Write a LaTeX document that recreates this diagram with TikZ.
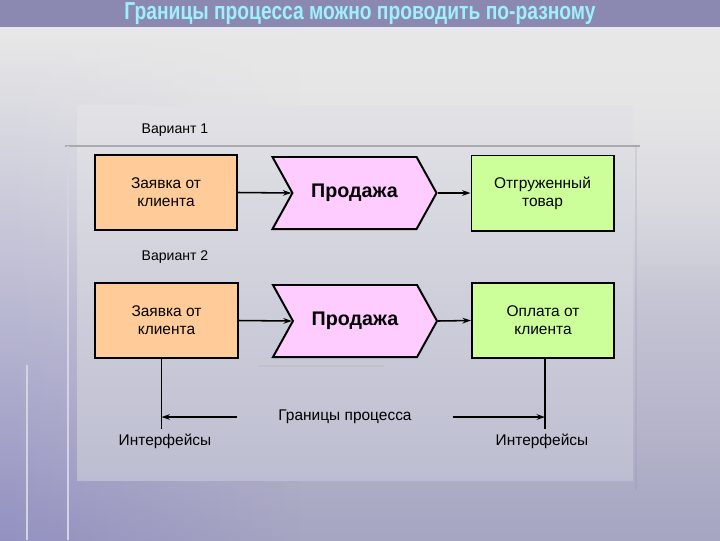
\documentclass[tikz,border=0pt]{standalone}
\usepackage{fontspec}
\usepackage{graphicx}
\setmainfont{Liberation Sans}
\usetikzlibrary{arrows.meta,shapes.symbols,fadings}

\definecolor{barcol}{HTML}{8B89B1}
\definecolor{titlecol}{HTML}{9FF0FF}
\definecolor{bgleft}{HTML}{9391C0}
\definecolor{bgbot}{HTML}{A6A5C2}
\definecolor{bgtop}{HTML}{E8E8E8}
\definecolor{paneltop}{HTML}{E2E2E6}
\definecolor{panelbot}{HTML}{BCBDD0}
\definecolor{decoline}{HTML}{A9A9AE}
\definecolor{reqorange}{HTML}{FFCC99}
\definecolor{salepink}{HTML}{FFCCFF}
\definecolor{resgreen}{HTML}{CCFF99}

\begin{document}
\begin{tikzpicture}[x=0.025cm,y=-0.025cm,
  font=\fontsize{11}{13}\selectfont,
  inbox/.style={draw,line width=1.4pt,minimum width=3.55cm,minimum height=1.875cm,align=center,inner sep=2pt},
  sale/.style={signal,signal to=east,signal from=west,signal pointer angle=122,draw,line width=1.4pt,
    fill=salepink,minimum width=4.1cm,minimum height=1.8cm,font=\fontsize{14}{16}\selectfont\bfseries},
  flow/.style={-{Stealth[length=6pt,width=4pt]},line width=1.1pt},
  edge line/.style={line width=1.1pt},
]
\useasboundingbox (0,0) rectangle (720,540);

% ---------- slide background ----------
\shade[top color=bgtop,bottom color=bgbot] (0,27) rectangle (720,540);
\fill[bgtop,path fading=south] (0,27) rectangle (720,300);
\shade[top color=bgtop,bottom color=bgleft,middle color=bgtop!50!bgleft,path fading=east] (0,27) rectangle (300,540);
\shade[top color=paneltop,bottom color=panelbot] (77,105) rectangle (633,480);
\draw[decoline,line width=2pt] (65,146) -- (640,146);
\draw[white!60!bgleft,line width=1.5pt] (68,146) -- (68,540);
\draw[white!60!bgleft,line width=1.5pt] (27,365) -- (27,540);
\draw[bgbot!85!black,opacity=0.2,line width=1.5pt] (636,146) -- (636,490);
\draw[decoline!70,line width=2pt] (258,366) -- (384,366);
\fill[barcol] (0,0) rectangle (720,27);
\draw[white!80!barcol,line width=1.5pt] (0,28) -- (720,28);
\node[titlecol] (title) at (360,14)
  {\resizebox{335pt}{12pt}{\bfseries Границы процесса можно проводить по-разному}};

% ---------- variant 1 ----------
\node (var1) at (175,130) {\fontsize{10}{12}\selectfont Вариант 1};
\node[inbox,fill=reqorange] (req1) at (166,192.5) {Заявка от\\клиента};
\node[sale] (sale1) at (354.5,193) {Продажа};
\node[inbox,fill=resgreen] (goods) at (542.5,193) {Отгруженный\\товар};
\draw[flow] (req1.east) -- (sale1.west);
\draw[flow] (sale1.east) -- (goods.west);

% ---------- variant 2 ----------
\node (var2) at (175,257) {\fontsize{10}{12}\selectfont Вариант 2};
\node[inbox,fill=reqorange] (req2) at (166.5,320.5) {Заявка от\\клиента};
\node[sale] (sale2) at (355,321) {Продажа};
\node[inbox,fill=resgreen] (pay) at (543,320.5) {Оплата от\\клиента};
\draw[flow] (req2.east) -- (sale2.west);
\draw[flow] (sale2.east) -- (pay.west);

% ---------- process boundaries ----------
\node (bound) at (345,417) {Границы процесса};
\node (if1) at (165,441) {Интерфейсы};
\node (if2) at (542,441) {Интерфейсы};
\coordinate (cut1) at ([xshift=-0.125cm]req2.south);
\coordinate (cut2) at ([xshift=0.05cm]pay.south);
\draw[edge line] (cut1) -- (cut1 |- if1.north);
\draw[edge line] (cut2) -- (cut2 |- if2.north);
\draw[flow] ([xshift=-0.9cm]bound.west) -- (bound.west -| cut1);
\draw[flow] ([xshift=0.9cm]bound.east) -- (bound.east -| cut2);

\end{tikzpicture}
\end{document}
